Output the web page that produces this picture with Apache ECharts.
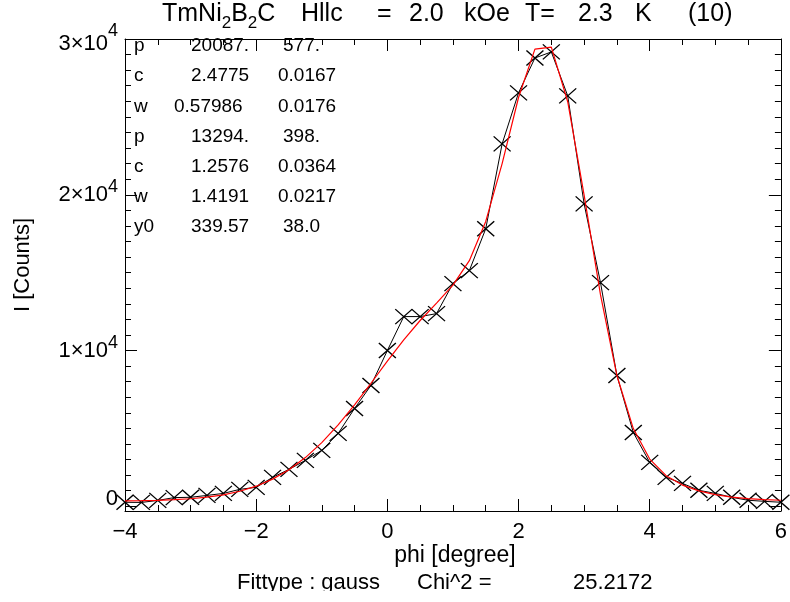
<!DOCTYPE html>
<html><head><meta charset="utf-8">
<script src="https://cdn.jsdelivr.net/npm/echarts@6/dist/echarts.min.js"></script>
<style>html,body{margin:0;padding:0;background:#fff}#c{width:790px;height:602px}</style>
</head><body><div id="c"></div>
<script>
// ---- data ----
const phi = [-4.0,-3.75,-3.5,-3.25,-3.0,-2.75,-2.5,-2.25,-2.0,-1.75,-1.5,-1.25,-1.0,-0.75,-0.5,-0.25,0.0,0.25,0.5,0.75,1.0,1.25,1.5,1.75,2.0,2.25,2.5,2.75,3.0,3.25,3.5,3.75,4.0,4.25,4.5,4.75,5.0,5.25,5.5,5.75,6.0];
const counts = [260,250,380,560,580,700,830,1090,1220,1860,2370,2950,3590,4680,6280,7760,10000,12180,12180,12370,14300,15130,17820,23270,26540,28780,29170,26350,19420,14360,8400,4740,2820,1860,1470,1030,830,580,390,320,260];
const fitCounts = [354,366,388,425,487,586,739,966,1293,1747,2352,3130,4090,5227,6514,7900,9318,10684,11929,13047,14198,15771,18291,22001,26245,29349,29474,25974,19981,13572,8398,4991,3034,1966,1363,992,752,594,492,428,389];
const yMajorTicks = [0,10000,20000,30000];
const yMinorTicks = [1000,2000,3000,4000,5000,6000,7000,8000,9000,11000,12000,13000,14000,15000,16000,17000,18000,19000,21000,22000,23000,24000,25000,26000,27000,28000,29000];
const paramNames = ['p','c','w','p','c','w','y0'];
const paramValues = ['20087.','2.4775','0.57986','13294.','1.2576','1.4191','339.57'];
const paramErrors = ['577.','0.0167','0.0176','398.','0.0364','0.0217','38.0'];
const titleWords = ['{n|TmNi}{s|2}{n|B}{s|2}{n|C}','Hllc','=','2.0','kOe','T=','2.3','K','(10)'];
const fitType = 'gauss';
const chi2 = '25.2172';

// ---- chart ----
const FONT = '"Liberation Sans", Arial, sans-serif';
const chart = echarts.init(document.getElementById('c'));
const dataPts = phi.map((x, i) => [x, counts[i]]);
const fitPts = phi.map((x, i) => [x, fitCounts[i]]);

const YMIN = -300, YMAX = 30000;
const tickCol = '#000';

function xAxisCfg(pos, labels) {
  return {
    type: 'value', position: pos, min: -4, max: 6, interval: 2,
    axisLine: { show: true, onZero: false, lineStyle: { color: '#000', width: 1 } },
    axisTick: { show: true, inside: true, length: 12, lineStyle: { color: tickCol } },
    minorTick: { show: true, splitNumber: 4, length: 6, lineStyle: { color: tickCol } },
    splitLine: { show: false }, minorSplitLine: { show: false },
    axisLabel: labels ? {
      show: true, margin: 10, fontFamily: FONT, fontSize: 22, color: '#000',
      showMinLabel: true, showMaxLabel: true,
      formatter: v => (v < 0 ? '\u2212' + Math.abs(v) : String(v))
    } : { show: false }
  };
}
function yLabel(v) {
  if (v === 0) return '{z|0}';
  const top = v === 30000 ? 't' : 'b';
  return '{' + top + '|' + (v / 10000) + '\u00d710}{s|4}';
}
function yAxisCfg(pos, major, labels) {
  return {
    type: 'value', position: pos, min: YMIN, max: YMAX, offset: 0,
    axisLine: { show: major, onZero: false, lineStyle: { color: '#000', width: 1 } },
    axisTick: { show: true, inside: true, length: major ? 12 : 6,
      customValues: major ? yMajorTicks : yMinorTicks, lineStyle: { color: tickCol } },
    splitLine: { show: false },
    axisLabel: labels ? {
      show: true, margin: 7, color: '#000', customValues: yMajorTicks,
      formatter: yLabel,
      rich: {
        b: { fontFamily: FONT, fontSize: 22, lineHeight: 34, color: '#000' },
        t: { fontFamily: FONT, fontSize: 22, lineHeight: 34, padding: [10, 0, 0, 0], color: '#000' },
        z: { fontFamily: FONT, fontSize: 22, lineHeight: 22, padding: [0, 0, 14, 0], color: '#000' },
        s: { fontFamily: FONT, fontSize: 18, lineHeight: 14, verticalAlign: 'top', color: '#000' }
      }
    } : { show: false }
  };
}

const graphics = [];
// title words
const titleX = [162, 301, 377, 409, 464, 525, 578, 635, 688];
titleWords.forEach((w, i) => {
  graphics.push({
    type: 'text', left: titleX[i], top: 2,
    style: {
      text: w.charAt(0) === '{' ? w : '{n|' + w + '}',
      fill: '#000',
      rich: {
        n: { fontFamily: FONT, fontSize: 25, lineHeight: 34, fill: '#000' },
        s: { fontFamily: FONT, fontSize: 17, lineHeight: 17, verticalAlign: 'bottom', fill: '#000' }
      }
    }
  });
});
// fit parameter table
paramNames.forEach((n, i) => {
  const y = 46 + i * 30.2;
  graphics.push({ type: 'text', x: 134, y: y, style: { text: n, font: '19px ' + FONT, fill: '#000', verticalAlign: 'middle' } });
  graphics.push({ type: 'text', x: paramValues[i].length > 6 ? 174 : 191, y: y, style: { text: paramValues[i], font: '19px ' + FONT, fill: '#000', verticalAlign: 'middle' } });
  graphics.push({ type: 'text', x: paramErrors[i].length > 4 ? 278 : 283, y: y, style: { text: paramErrors[i], font: '19px ' + FONT, fill: '#000', verticalAlign: 'middle' } });
});
// axis titles
graphics.push({ type: 'text', x: 455, y: 556, style: { text: 'phi [degree]', font: '23px ' + FONT, fill: '#000', align: 'center', verticalAlign: 'middle' } });
graphics.push({ type: 'text', x: 23, y: 265, rotation: Math.PI / 2, style: { text: 'I [Counts]', font: '22px ' + FONT, fill: '#000', align: 'center', verticalAlign: 'middle' } });
// fit type line
graphics.push({ type: 'text', x: 237, y: 583, style: { text: 'Fittype : ' + fitType, font: '22px ' + FONT, fill: '#000', verticalAlign: 'middle' } });
graphics.push({ type: 'text', x: 417, y: 583, style: { text: 'Chi^2 =', font: '22px ' + FONT, fill: '#000', verticalAlign: 'middle' } });
graphics.push({ type: 'text', x: 573, y: 583, style: { text: chi2, font: '22px ' + FONT, fill: '#000', verticalAlign: 'middle' } });
// page clipped at bottom as in reference
graphics.push({ type: 'rect', shape: { x: 0, y: 591, width: 790, height: 11 }, style: { fill: '#fff' }, z: 100 });

chart.setOption({
  animation: false,
  backgroundColor: '#fff',
  grid: { left: 125, top: 39, width: 660, height: 472, containLabel: false },
  xAxis: [xAxisCfg('bottom', true), xAxisCfg('top', false)],
  yAxis: [yAxisCfg('left', true, true), yAxisCfg('left', false, false), yAxisCfg('right', true, false), yAxisCfg('right', false, false)],
  graphic: graphics,
  series: [
    {
      name: 'data', type: 'line', data: dataPts, xAxisIndex: 0, yAxisIndex: 0,
      symbol: 'path://M0,0L10,10M10,0L0,10', symbolSize: [17, 15], showAllSymbol: true,
      lineStyle: { color: '#000', width: 1 },
      itemStyle: { color: '#000', borderColor: '#000', borderWidth: 1.3 },
      z: 2
    },
    {
      name: 'fit', type: 'line', data: fitPts, xAxisIndex: 0, yAxisIndex: 0,
      symbol: 'none', lineStyle: { color: '#ff0000', width: 1.2 }, z: 3
    }
  ]
});
</script></body></html>
